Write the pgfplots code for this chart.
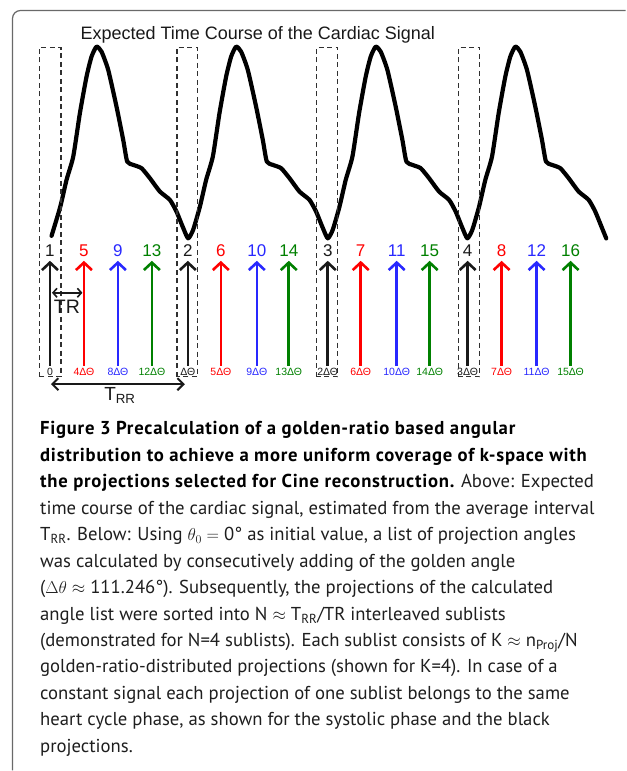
\documentclass[border=0pt]{standalone}
\usepackage{pgfplots}
\pgfplotsset{compat=1.18}
\usetikzlibrary{arrows.meta}
\usepackage{fontspec}
\setmainfont{Liberation Sans}
\newfontfamily\capfont[BoldFeatures={LetterSpace=4}]{PT Sans}
\definecolor{pred}{RGB}{255,0,0}
\definecolor{pblue}{RGB}{40,40,255}
\definecolor{pgreen}{RGB}{0,128,0}
\definecolor{pblack}{RGB}{25,25,25}
\definecolor{frame}{RGB}{105,105,105}
\definecolor{captxt}{RGB}{30,30,30}

\newcommand{\fs}[1]{\fontsize{#1}{#1}\selectfont}

\begin{document}
\begin{tikzpicture}
\begin{axis}[
  width=626pt, height=771pt, scale only axis,
  xmin=0, xmax=626, ymin=0, ymax=771, y dir=reverse,
  hide axis, clip=false,
]
\path (axis cs:0,0) rectangle (axis cs:626,771);

% figure frame
\draw[frame, line width=1.2pt, rounded corners=8pt]
  (axis cs:12.5,771) -- (axis cs:12.5,10.5) -- (axis cs:626,10.5);

% expected cardiac signal
\addplot[black, line width=4.2pt, line join=round, line cap=round, smooth, tension=0.35] coordinates {
(51.6,236) (60.3,207) (66.6,180) (73.3,156.7) (80,113) (86.6,76.7) (91.6,56.7) (96.6,46.7)
(101.6,51.7) (108.3,70) (116.6,106.7) (123.3,140) (127.3,161.7) (133.3,165) (141.6,168.3)
(150,178.3) (160,191.7) (170,200) (176.6,211.7) (183.3,228) (188.3,238.5)
(193.3,230) (200,207) (206.3,180) (213,156.7) (219.7,113) (226.3,76.7) (231.3,56.7) (236.3,46.7)
(241.3,51.7) (248,70) (256.3,106.7) (263,140) (267,161.7) (273,165) (281.3,168.3)
(289.7,178.3) (299.7,191.7) (309.7,200) (316.3,211.7) (323,228) (328,238.5)
(333,230) (339.7,207) (346,180) (352.7,156.7) (359.4,113) (366,76.7) (371,56.7) (376,46.7)
(381,51.7) (387.7,70) (396,106.7) (402.7,140) (406.7,161.7) (412.7,165) (421,168.3)
(429.4,178.3) (439.4,191.7) (449.4,200) (456,211.7) (462.7,228) (467.7,238.5)
(472.7,230) (479.4,207) (485.7,180) (492.4,156.7) (499.1,113) (505.7,76.7) (510.7,56.7) (515.7,46.7)
(520.7,51.7) (527.4,70) (535.7,106.7) (542.4,140) (546.4,161.7) (552.4,165) (560.7,168.3)
(569.1,178.3) (579.1,191.7) (589.1,200) (595.7,211.7) (602.4,228) (606.7,238.5)
};

% dashed boxes (systolic phase)
\addplot[pblack!90, line width=1.3pt, dash pattern=on 5pt off 3.5pt] coordinates {(39.5,377) (39.5,47.5) (61,47.5) (61,377) (39.5,377)};
\addplot[pblack!90, line width=1.3pt, dash pattern=on 5pt off 3.5pt] coordinates {(177,377) (177,47.5) (197.5,47.5) (197.5,377) (177,377)};
\addplot[pblack!90, line width=1.3pt, dash pattern=on 5pt off 3.5pt] coordinates {(317,377) (317,47.5) (338,47.5) (338,377) (317,377)};
\addplot[pblack!90, line width=1.3pt, dash pattern=on 5pt off 3.5pt] coordinates {(459,377) (459,47.5) (480,47.5) (480,377) (459,377)};

% projection arrows
\pgfplotsset{proj/.style={line width=2.6pt, quiver={u=0,v=-105},
  -{Straight Barb[length=7.5pt,width=16pt]}, mark=none}}
\addplot[pblack, proj] table {
x y
50 366
188 366
328 366
468 366
};
\addplot[pred, proj] table {
x y
84 366
221 366
361 366
502 366
};
\addplot[pblue, proj] table {
x y
118 366
257 366
397 366
537 366
};
\addplot[pgreen, proj] table {
x y
152 366
289 366
430 366
571 366
};

% TR and T_RR
\addplot[pblack, line width=1.6pt, {Straight Barb[length=4pt,width=9pt]}-{Straight Barb[length=4pt,width=9pt]}] coordinates {(52,293) (82.5,293)};
\addplot[pblack, line width=2pt, {Straight Barb[length=6pt,width=12pt]}-{Straight Barb[length=6pt,width=12pt]}] coordinates {(51,384.5) (185,384.5)};

% texts of the diagram
\node[font=\fs{18}, text=pblack] at (axis cs:258,35) {Expected Time Course of the Cardiac Signal};
\node[font=\fs{19.5}, text=pblack] at (axis cs:67,307) {TR};
\node[font=\fs{19}, text=pblack] at (axis cs:120,396) {T\textsubscript{RR}};

\begin{scope}[every node/.style={font=\fs{17}}]
\node[text=pblack] at (axis cs:50,251) {1};
\node[text=pblack] at (axis cs:188,251) {2};
\node[text=pblack] at (axis cs:328,251) {3};
\node[text=pblack] at (axis cs:468,251) {4};
\node[text=pred] at (axis cs:84,251) {5};
\node[text=pred] at (axis cs:221,251) {6};
\node[text=pred] at (axis cs:361,251) {7};
\node[text=pred] at (axis cs:502,251) {8};
\node[text=pblue] at (axis cs:118,251) {9};
\node[text=pblue] at (axis cs:257,251) {10};
\node[text=pblue] at (axis cs:397,251) {11};
\node[text=pblue] at (axis cs:537,251) {12};
\node[text=pgreen] at (axis cs:152,251) {13};
\node[text=pgreen] at (axis cs:289,251) {14};
\node[text=pgreen] at (axis cs:430,251) {15};
\node[text=pgreen] at (axis cs:571,251) {16};
\end{scope}

\begin{scope}[every node/.style={font=\fs{10.5}}]
\node[text=pblack] at (axis cs:50,372) {0};
\node[text=pblack] at (axis cs:188,372) {ΔΘ};
\node[text=pblack] at (axis cs:328,372) {2ΔΘ};
\node[text=pblack] at (axis cs:468,372) {3ΔΘ};
\node[text=pred] at (axis cs:84,372) {4ΔΘ};
\node[text=pred] at (axis cs:221,372) {5ΔΘ};
\node[text=pred] at (axis cs:361,372) {6ΔΘ};
\node[text=pred] at (axis cs:502,372) {7ΔΘ};
\node[text=pblue] at (axis cs:118,372) {8ΔΘ};
\node[text=pblue] at (axis cs:257,372) {9ΔΘ};
\node[text=pblue] at (axis cs:397,372) {10ΔΘ};
\node[text=pblue] at (axis cs:537,372) {11ΔΘ};
\node[text=pgreen] at (axis cs:152,372) {12ΔΘ};
\node[text=pgreen] at (axis cs:289,372) {13ΔΘ};
\node[text=pgreen] at (axis cs:430,372) {14ΔΘ};
\node[text=pgreen] at (axis cs:571,372) {15ΔΘ};
\end{scope}

% caption
\begin{scope}[every node/.style={anchor=base west, inner sep=0pt, text=captxt, font=\capfont\fs{18.7}}]
\node at (axis cs:40,435) {\textbf{\color{black}Figure 3 Precalculation of a golden-ratio based angular}};
\node at (axis cs:40,461.5) {\textbf{\color{black}distribution to achieve a more uniform coverage of k-space with}};
\node at (axis cs:40,488) {\textbf{\color{black}the projections selected for Cine reconstruction.} Above: Expected};
\node at (axis cs:40,514.5) {time course of the cardiac signal, estimated from the average interval};
\node at (axis cs:40,541) {T\textsubscript{RR}. Below: Using $\theta_0 =$ 0° as initial value, a list of projection angles};
\node at (axis cs:40,567.5) {was calculated by consecutively adding of the golden angle};
\node at (axis cs:40,594) {($\Delta\theta \approx$ 111.246°). Subsequently, the projections of the calculated};
\node at (axis cs:40,620.5) {angle list were sorted into N $\approx$ T\textsubscript{RR}/TR interleaved sublists};
\node at (axis cs:40,647) {(demonstrated for N=4 sublists). Each sublist consists of K $\approx$ n\textsubscript{Proj}/N};
\node at (axis cs:40,673.5) {golden-ratio-distributed projections (shown for K=4). In case of a};
\node at (axis cs:40,700) {constant signal each projection of one sublist belongs to the same};
\node at (axis cs:40,726.5) {heart cycle phase, as shown for the systolic phase and the black};
\node at (axis cs:40,753) {projections.};
\end{scope}
\end{axis}
\end{tikzpicture}
\end{document}
